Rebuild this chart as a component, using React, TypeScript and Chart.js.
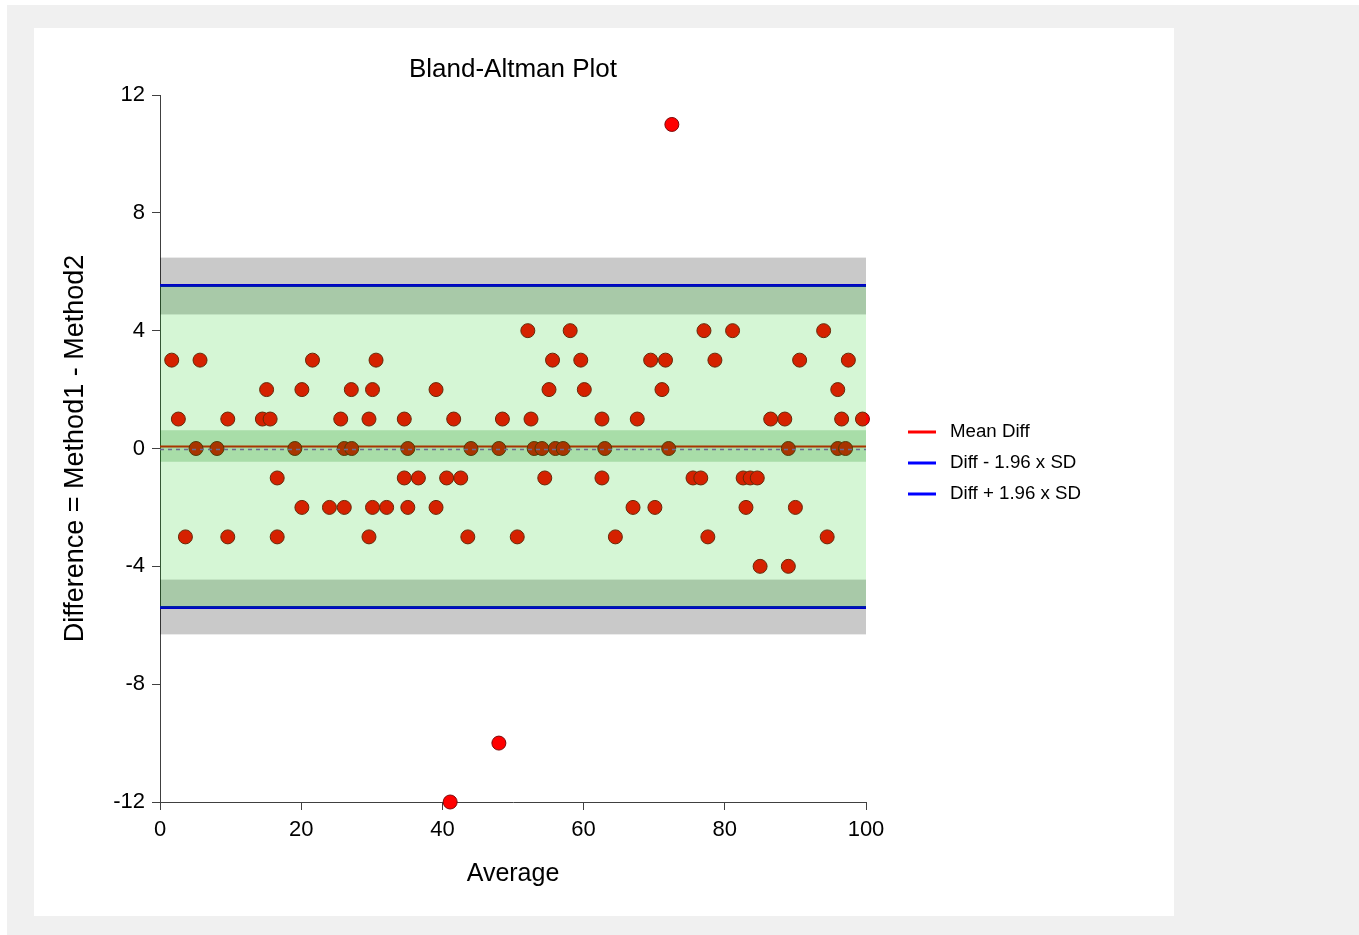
import React, { useEffect, useRef } from 'react';
import { Chart, registerables } from 'chart.js';

Chart.register(...registerables);

// ---- Data ----
const averages = [
  1.66, 2.6, 3.6, 5.1, 5.67, 8.07, 9.6, 9.6, 14.5, 15.1, 15.6, 16.6, 16.6, 19.1, 20.1, 20.1, 21.6, 24.0,
  25.6, 26.1, 26.1, 27.1, 27.15, 29.6, 29.6, 30.1, 30.1, 30.6, 32.1, 34.6, 34.6, 35.1, 35.1, 36.6, 39.1,
  39.1, 40.6, 41.1, 41.6, 42.6, 43.6, 44.05, 48.0, 48.0, 48.5, 50.6, 52.1, 52.55, 53.0, 54.1, 54.5, 55.1,
  55.6, 56.0, 57.1, 58.1, 59.6, 60.1, 62.6, 62.6, 63.0, 64.5, 67.0, 67.6, 69.5, 70.1, 71.1, 71.6, 72.05,
  72.5, 75.5, 76.6, 77.05, 77.6, 78.6, 81.1, 82.6, 83.0, 83.6, 84.6, 85.0, 86.5, 88.5, 89.0, 89.0, 90.0,
  90.6, 94.0, 94.5, 96.0, 96.0, 96.55, 97.1, 97.5, 99.5,
];
const differences = [
  3, 1, -3, 0, 3, 0, 1, -3, 1, 2, 1, -1, -3, 0, 2, -2, 3, -2,
  1, 0, -2, 2, 0, 1, -3, 2, -2, 3, -2, 1, -1, 0, -2, -1, 2,
  -2, -1, -12, 1, -1, -3, 0, 0, -10, 1, -3, 4, 1, 0, 0, -1, 2,
  3, 0, 0, 4, 3, 2, 1, -1, 0, -3, -2, 1, 3, -2, 2, 3, 0,
  11, -1, -1, 4, -3, 3, 4, -1, -2, -1, -1, -4, 1, 1, 0, -4, -2,
  3, 4, -3, 2, 0, 1, 0, 3, 1,
];
const meanDiff = 0.07;
const lowerLimit = -5.4;
const upperLimit = 5.53;
const meanCI = [-0.45, 0.62];
const lowerCI = [-6.31, -4.45];
const upperCI = [4.55, 6.48];
const xRange = [0, 100];
const yRange = [-12, 12];
const xStep = 20;
const yStep = 4;
const legendLabels = ['Mean Diff', 'Diff - 1.96 x SD', 'Diff + 1.96 x SD'];
const legendColors = ['#ff0000', '#0000ff', '#0000ff'];

const FONT = "'Liberation Sans', Arial, sans-serif";

const overlayPlugin = {
  id: 'baOverlay',
  afterDatasetsDraw(chart: any) {
    const { ctx, chartArea, scales } = chart;
    const x = scales.x;
    const y = scales.y;
    const x0 = x.getPixelForValue(xRange[0]);
    const x1 = x.getPixelForValue(xRange[1]);
    const band = (lo: number, hi: number, color: string) => {
      const yTop = y.getPixelForValue(hi);
      const yBot = y.getPixelForValue(lo);
      ctx.fillStyle = color;
      ctx.fillRect(x0, yTop, x1 - x0, yBot - yTop);
    };
    ctx.save();
    ctx.beginPath();
    ctx.rect(chartArea.left, chartArea.top, chartArea.right - chartArea.left, chartArea.bottom - chartArea.top);
    ctx.clip();
    band(upperCI[0], upperCI[1], 'rgba(0,0,0,0.21)');
    band(lowerCI[0], lowerCI[1], 'rgba(0,0,0,0.21)');
    band(lowerLimit, upperLimit, 'rgba(0,200,0,0.165)');
    band(meanCI[0], meanCI[1], 'rgba(0,126,0,0.21)');
    // zero reference line (dashed)
    const yz = y.getPixelForValue(0);
    ctx.strokeStyle = '#6b6b8e';
    ctx.lineWidth = 1.5;
    ctx.setLineDash([4, 4]);
    ctx.beginPath();
    ctx.moveTo(x0, yz + 1);
    ctx.lineTo(x1, yz + 1);
    ctx.stroke();
    ctx.restore();
  },
  afterDraw(chart: any) {
    const { ctx, chartArea } = chart;
    ctx.save();
    // title
    ctx.fillStyle = '#000';
    ctx.font = `26px ${FONT}`;
    ctx.textAlign = 'center';
    ctx.textBaseline = 'middle';
    ctx.fillText('Bland-Altman Plot', (chartArea.left + chartArea.right) / 2, 42);
    // legend
    ctx.font = `18.7px ${FONT}`;
    ctx.textAlign = 'left';
    legendLabels.forEach((label, i) => {
      const yy = chartArea.top + 337 + i * 31;
      ctx.strokeStyle = legendColors[i];
      ctx.lineWidth = 3;
      ctx.setLineDash([]);
      ctx.beginPath();
      ctx.moveTo(chartArea.right + 42, yy);
      ctx.lineTo(chartArea.right + 70, yy);
      ctx.stroke();
      ctx.fillStyle = '#000';
      ctx.fillText(label, chartArea.right + 84, yy);
    });
    ctx.restore();
  },
};

export default function App() {
  const canvasRef = useRef<HTMLCanvasElement | null>(null);

  useEffect(() => {
    if (!canvasRef.current) return;
    const points = averages.map((a, i) => ({ x: a, y: differences[i] }));
    const hline = (v: number) => [
      { x: xRange[0], y: v },
      { x: xRange[1], y: v },
    ];
    const chart = new Chart(canvasRef.current, {
      type: 'scatter',
      data: {
        datasets: [
          {
            label: 'Points',
            data: points,
            pointRadius: 7,
            pointHoverRadius: 7,
            backgroundColor: '#ff0000',
            borderColor: '#7a0a0a',
            borderWidth: 1,
            clip: false,
            order: 1,
          },
          {
            label: legendLabels[0],
            type: 'line',
            data: hline(meanDiff),
            borderColor: '#ff0000',
            borderWidth: 2,
            pointRadius: 0,
            order: 2,
          },
          {
            label: legendLabels[1],
            type: 'line',
            data: hline(lowerLimit),
            borderColor: '#0000ff',
            borderWidth: 3,
            pointRadius: 0,
            order: 3,
          },
          {
            label: legendLabels[2],
            type: 'line',
            data: hline(upperLimit),
            borderColor: '#0000ff',
            borderWidth: 3,
            pointRadius: 0,
            order: 4,
          },
        ],
      },
      options: {
        animation: false,
        responsive: false,
        devicePixelRatio: 1,
        layout: { padding: { top: 67, right: 308, left: 0, bottom: 0 } },
        plugins: {
          legend: { display: false },
          title: { display: false },
          tooltip: { enabled: false },
        },
        scales: {
          x: {
            type: 'linear',
            min: xRange[0],
            max: xRange[1],
            afterFit: (s: any) => {
              s.height = 114;
            },
            ticks: {
              stepSize: xStep,
              color: '#000',
              font: { family: FONT, size: 22 },
              padding: 7,
            },
            grid: { display: true, drawOnChartArea: false, drawTicks: true, tickLength: 8, color: '#404040' },
            border: { display: true, color: '#404040', width: 1 },
            title: {
              display: true,
              text: 'Average',
              color: '#000',
              font: { family: FONT, size: 25 },
              padding: { top: 0, bottom: 27 },
            },
          },
          y: {
            type: 'linear',
            min: yRange[0],
            max: yRange[1],
            afterFit: (s: any) => {
              s.width = 126;
            },
            ticks: {
              stepSize: yStep,
              color: '#000',
              font: { family: FONT, size: 22 },
              padding: 7,
            },
            grid: { display: true, drawOnChartArea: false, drawTicks: true, tickLength: 8, color: '#404040' },
            border: { display: true, color: '#404040', width: 1 },
            title: {
              display: true,
              text: 'Difference = Method1 - Method2',
              color: '#000',
              font: { family: FONT, size: 27 },
              padding: { top: 25, bottom: 0 },
            },
          },
        },
      },
      plugins: [overlayPlugin],
    } as any);
    return () => chart.destroy();
  }, []);

  return (
    <div
      style={{
        position: 'fixed',
        left: 7,
        top: 5,
        width: 1352,
        height: 930,
        background: '#f0f0f0',
      }}
    >
      <div
        style={{
          position: 'absolute',
          left: 27,
          top: 23,
          width: 1140,
          height: 888,
          background: '#ffffff',
        }}
      >
        <canvas ref={canvasRef} width={1140} height={888} style={{ display: 'block', width: 1140, height: 888 }} />
      </div>
    </div>
  );
}
